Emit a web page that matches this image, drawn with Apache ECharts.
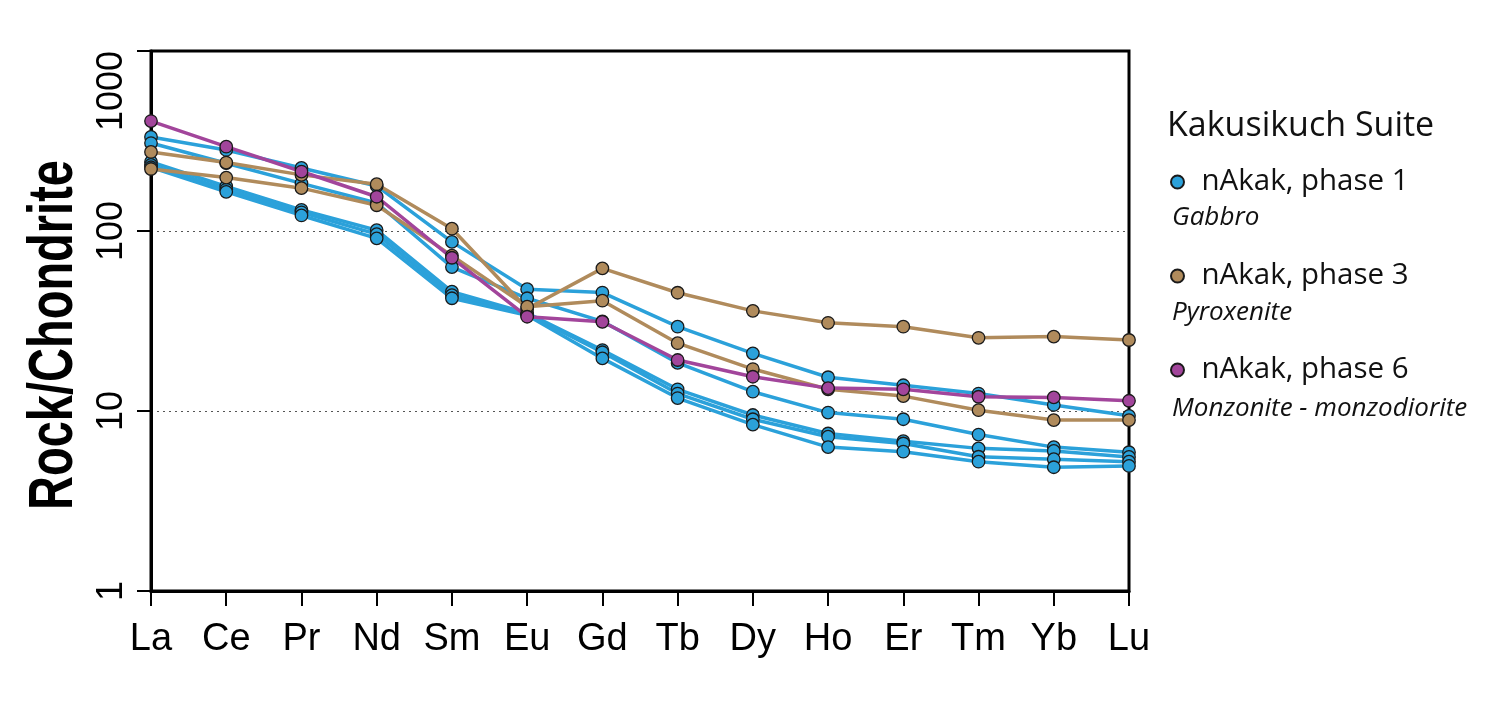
<!DOCTYPE html>
<html>
<head>
<meta charset="utf-8">
<script src="https://cdn.jsdelivr.net/npm/echarts@6/dist/echarts.min.js"></script>
<style>
html,body{margin:0;padding:0;background:#fff;}
#chart{width:1499px;height:716px;}
</style>
</head>
<body>
<div id="chart"></div>
<script>
const elements = ['La','Ce','Pr','Nd','Sm','Eu','Gd','Tb','Dy','Ho','Er','Tm','Yb','Lu'];
const yTicks = [1, 10, 100, 1000];

const phase1Name = 'nAkak, phase 1';
const phase3Name = 'nAkak, phase 3';
const phase6Name = 'nAkak, phase 6';

const phase1Sample1 = [333, 282, 224, 178, 87, 47.5, 45.5, 29.4, 20.9, 15.4, 13.9, 12.5, 10.8, 9.4];
const phase1Sample2 = [308, 238, 184, 143, 63, 42.3, 31.5, 18.5, 12.8, 9.8, 9.0, 7.4, 6.3, 5.9];
const phase1Sample3 = [242, 177, 131, 101, 46, 35, 21.8, 13.2, 9.5, 7.5, 6.8, 6.2, 6.0, 5.56];
const phase1Sample4 = [233, 170, 127, 96, 44, 34.5, 21.2, 12.5, 9.0, 7.2, 6.6, 5.57, 5.4, 5.23];
const phase1Sample5 = [226, 165, 122, 91, 42.3, 34, 19.6, 11.8, 8.4, 6.3, 5.94, 5.23, 4.87, 4.95];

const phase3Sample1 = [275, 240, 205, 182, 103, 37, 62, 45.4, 36, 30.9, 29.4, 25.5, 25.9, 24.8];
const phase3Sample2 = [221, 198, 173, 139, 73, 38, 41, 23.8, 17.1, 13.2, 12.1, 10.1, 8.9, 8.9];

const phase6Sample1 = [408, 294, 214, 155, 71, 33.4, 31.3, 19.2, 15.5, 13.4, 13.2, 12.0, 11.9, 11.4];

const groups = [
  {name: phase1Name, color: '#2ba1da', samples: [phase1Sample1, phase1Sample2, phase1Sample3, phase1Sample4, phase1Sample5]},
  {name: phase3Name, color: '#b08b5c', samples: [phase3Sample1, phase3Sample2]},
  {name: phase6Name, color: '#a2459b', samples: [phase6Sample1]}
];

const series = [];
groups.forEach(g => {
  g.samples.forEach(s => {
    series.push({
      name: g.name,
      type: 'line',
      data: s,
      symbol: 'circle',
      symbolSize: 12.5,
      lineStyle: {color: g.color, width: 3.5},
      itemStyle: {color: g.color, borderColor: '#1a1a1a', borderWidth: 1.3},
      emphasis: {disabled: true},
      animation: false
    });
  });
});

const sansFont = "'Liberation Sans',Arial,sans-serif";
const legendFont = "'Open Sans',sans-serif";
const chart = echarts.init(document.getElementById('chart'));
chart.setOption({
  backgroundColor: '#fff',
  animation: false,
  grid: {left: 151, right: 370, top: 51, bottom: 125, show: true, borderColor: '#000', borderWidth: 3, backgroundColor: 'transparent'},
  xAxis: {
    type: 'category',
    data: elements,
    boundaryGap: false,
    axisLine: {lineStyle: {color: '#000', width: 3}},
    axisTick: {show: true, length: 15, alignWithLabel: true, lineStyle: {color: '#000', width: 2}},
    axisLabel: {color: '#000', fontSize: 38, fontFamily: sansFont, margin: 30, interval: 0},
    splitLine: {show: false}
  },
  yAxis: {
    type: 'log',
    logBase: 10,
    min: yTicks[0],
    max: yTicks[yTicks.length - 1],
    axisLine: {show: true, lineStyle: {color: '#000', width: 3}},
    axisTick: {show: true, length: 14, lineStyle: {color: '#000', width: 2}},
    minorTick: {show: false},
    axisLabel: {color: '#000', fontSize: 36, fontFamily: sansFont, rotate: 90, margin: 21, alignMaxLabel: 'right',
      formatter: v => String(Math.round(v))},
    splitLine: {show: true, showMinLine: false, showMaxLine: false, lineStyle: {color: '#555', width: 1, type: [2, 4]}}
  },
  legend: {
    data: [phase1Name, phase3Name, phase6Name],
    orient: 'vertical',
    left: 1170,
    top: 167,
    padding: 0,
    itemWidth: 38,
    itemHeight: 13,
    itemGap: 64,
    icon: 'circle',
    selectedMode: false,
    textStyle: {fontFamily: legendFont, fontSize: 29.5, color: '#111'}
  },
  graphic: [
    {type: 'text', x: 55, y: 335, rotation: Math.PI / 2, scaleY: 1.32,
      style: {text: 'Rock/Chondrite', font: "bold 47px " + sansFont, fill: '#000', align: 'center', verticalAlign: 'middle'}},
    {type: 'text', x: 1167, y: 126,
      style: {text: 'Kakusikuch Suite', font: "34px " + legendFont, fill: '#111', align: 'left', verticalAlign: 'middle'}},
    {type: 'text', x: 1172, y: 218,
      style: {text: 'Gabbro', font: "italic 26px " + legendFont, fill: '#111', align: 'left', verticalAlign: 'middle'}},
    {type: 'text', x: 1172, y: 313,
      style: {text: 'Pyroxenite', font: "italic 26px " + legendFont, fill: '#111', align: 'left', verticalAlign: 'middle'}},
    {type: 'text', x: 1172, y: 409,
      style: {text: 'Monzonite - monzodiorite', font: "italic 26px " + legendFont, fill: '#111', align: 'left', verticalAlign: 'middle'}}
  ],
  series: series
});
</script>
</body>
</html>
